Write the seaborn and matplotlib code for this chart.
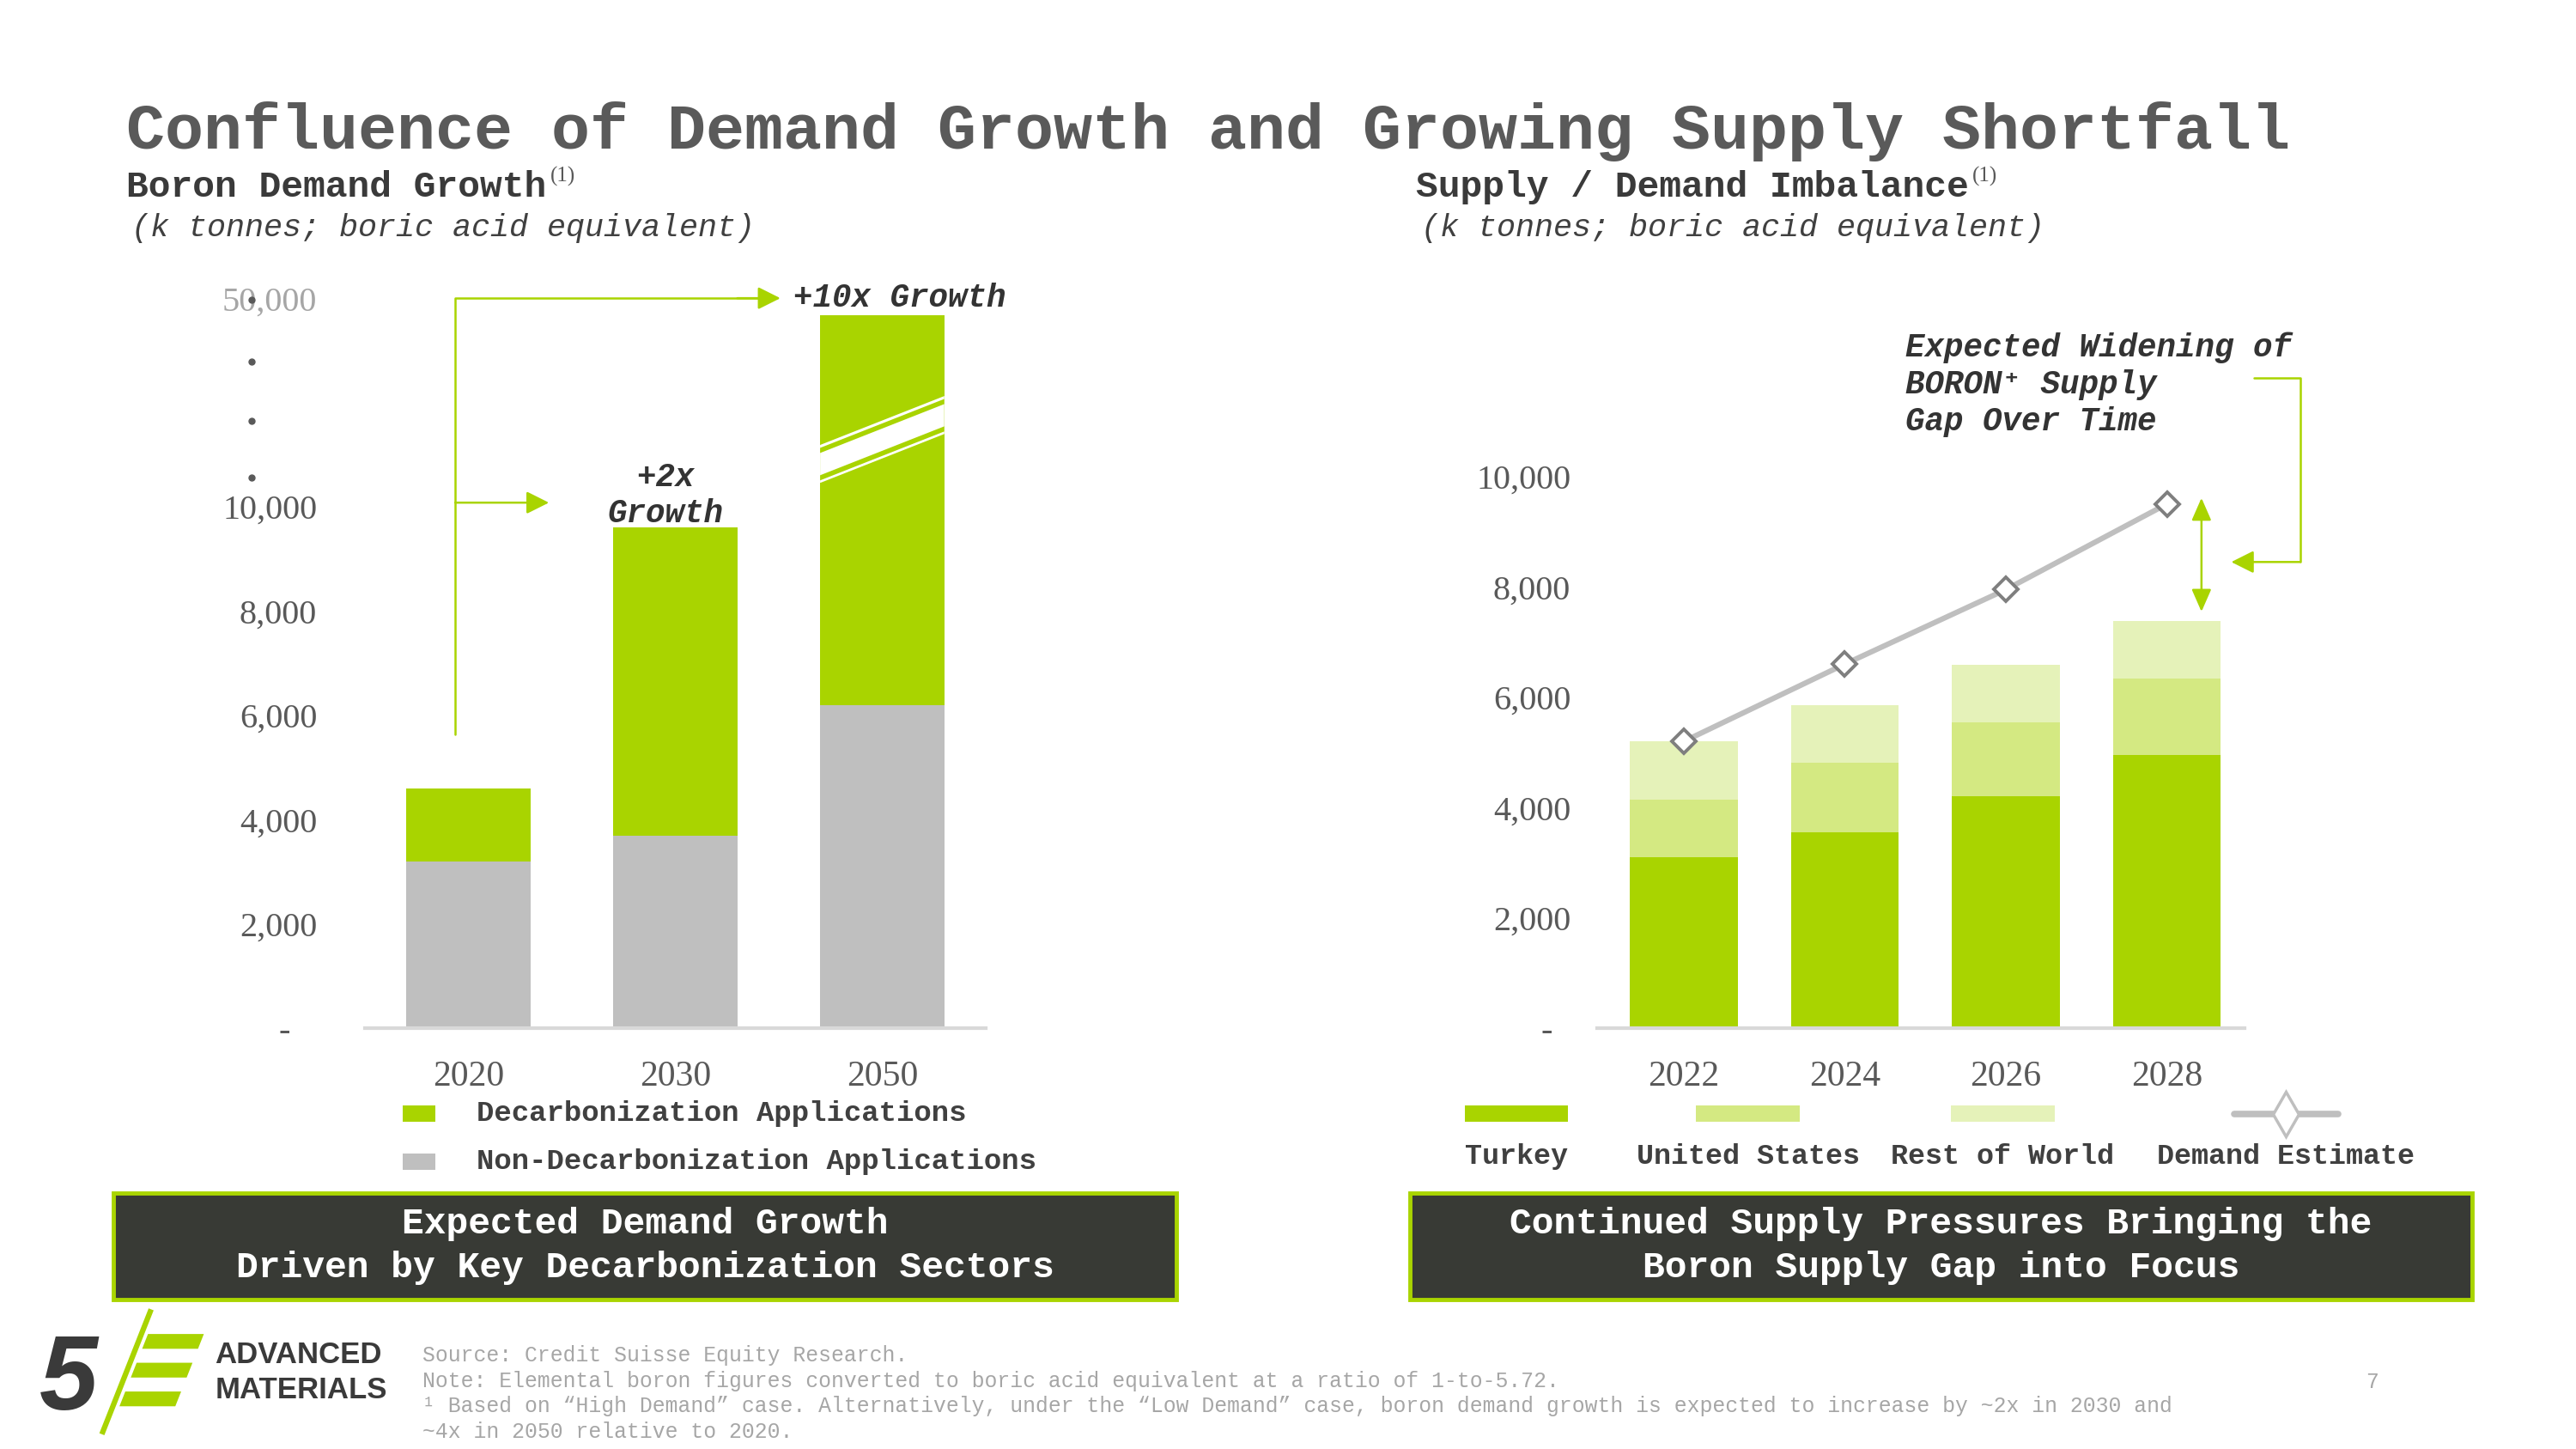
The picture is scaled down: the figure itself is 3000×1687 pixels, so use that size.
import numpy as np
import pandas as pd
import matplotlib
matplotlib.use('Agg')
import matplotlib.pyplot as plt
import matplotlib.transforms as mtransforms
from matplotlib.patches import Rectangle, Polygon
from matplotlib.lines import Line2D
import seaborn as sns

# ---- data ----
demand_years = ['2020', '2030', '2050']
non_decarb = [3200, 3700, 6200]
decarb = [1400, 5900, 40500]

supply_years = ['2022', '2024', '2026', '2028']
turkey = [3100, 3550, 4200, 4950]
united_states = [1050, 1270, 1340, 1390]
rest_of_world = [1050, 1030, 1040, 1040]
demand_estimate = [5200, 6600, 7950, 9500]

left_ticks = [0, 2000, 4000, 6000, 8000, 10000, 50000]
left_ticklabels = ['-   ', '2,000', '4,000', '6,000', '8,000', '10,000', '50,000']
right_ticks = [0, 2000, 4000, 6000, 8000, 10000]
right_ticklabels = ['-  ', '2,000', '4,000', '6,000', '8,000', '10,000']

# ---- style ----
GREEN = '#A9D400'
US_GREEN = '#D4E982'
ROW_GREEN = '#E5F2B9'
GRAY = '#BFBFBF'
DARK = '#3A3A3A'
TICK = '#595959'
NOTE = '#A6A6A6'
BOX = '#383A35'
MONO = ['Liberation Mono', 'DejaVu Sans Mono']
SERIF = ['Liberation Serif', 'DejaVu Serif']
SANS = ['Liberation Sans', 'DejaVu Sans']

sns.set_style('white')
plt.rcParams['font.family'] = MONO

fig = plt.figure(figsize=(30, 16.87), dpi=100)

# layout helpers (slide measured at 1568 x 882)
W, H = 1568.0, 882.0


def fx(x):
    return x / W


def fy(y):
    return 1 - y / H


ax1 = fig.add_axes([fx(222), fy(626), fx(600) - fx(222), fy(181.5) - fy(626)])
ax2 = fig.add_axes([fx(972), fy(626), fx(1366) - fx(972), fy(256.4) - fy(626)])

# ---- left: boron demand growth ----
df_d = pd.DataFrame({'year': demand_years, 'non': non_decarb, 'decarb': decarb})
df_d['total'] = df_d['non'] + df_d['decarb']

sns.barplot(data=df_d, x='year', y='total', color=GREEN, saturation=1, width=0.6,
            errorbar=None, linewidth=0, ax=ax1)
sns.barplot(data=df_d, x='year', y='non', color=GRAY, saturation=1, width=0.6,
            errorbar=None, linewidth=0, ax=ax1)


def fwd(y):
    y = np.asarray(y, dtype=float)
    return np.where(y <= 10000, y, 10000 + (y - 10000) / 10)


def inv(d):
    d = np.asarray(d, dtype=float)
    return np.where(d <= 10000, d, 10000 + (d - 10000) * 10)


ax1.set_yscale('function', functions=(fwd, inv))
ax1.set_ylim(0, 50000)
ax1.set_xlim(-0.5, 2.5)
ax1.set_yticks(left_ticks)
ax1.set_yticklabels(left_ticklabels)
ax1.set_xlabel('')
ax1.set_ylabel('')
ax1.tick_params(axis='y', length=0, pad=40, labelsize=29, labelcolor=TICK)
ax1.tick_params(axis='x', length=0, pad=27, labelsize=30, labelcolor=TICK)
for lbl in ax1.get_yticklabels() + ax1.get_xticklabels():
    lbl.set_fontfamily(SERIF)
ax1.get_yticklabels()[-1].set_color(NOTE)
sns.despine(ax=ax1, left=True)
ax1.spines['bottom'].set_color('#D9D9D9')
ax1.spines['bottom'].set_linewidth(3)

# axis break through the 2050 bar
tr1 = mtransforms.blended_transform_factory(ax1.transData, ax1.transAxes)
bx0, bx1 = 2 - 0.3, 2 + 0.3


def band(lo_l, lo_r, th, color):
    ax1.add_patch(Polygon([(bx0, lo_l), (bx1, lo_r), (bx1, lo_r + th), (bx0, lo_l + th)],
                          closed=True, transform=tr1, facecolor=color, lw=0, zorder=5))


band(0.747, 0.814, 0.052, 'white')
band(0.747 + 0.0035, 0.814 + 0.0035, 0.007, GREEN)
band(0.747 + 0.041, 0.814 + 0.041, 0.007, GREEN)

# dotted axis break
ax1.plot([-0.1825] * 4, [0.998, 0.913, 0.832, 0.754], transform=ax1.transAxes,
         ls='none', marker='o', ms=5, color=TICK, clip_on=False)

# growth arrows
ax1.plot([-0.063, -0.063, 1.4], [0.403, 1.0, 1.0], transform=tr1, color=GREEN,
         lw=1.8, clip_on=False)
ax1.annotate('', xy=(1.508, 1.0), xytext=(1.3, 1.0), xycoords=tr1, textcoords=tr1,
             arrowprops=dict(arrowstyle='-|>,head_length=1.6,head_width=0.8',
                             color=GREEN, lw=1.8, shrinkA=0, shrinkB=0),
             annotation_clip=False)
ax1.annotate('', xy=(0.39, 0.72), xytext=(-0.063, 0.72), xycoords=tr1, textcoords=tr1,
             arrowprops=dict(arrowstyle='-|>,head_length=1.6,head_width=0.8',
                             color=GREEN, lw=1.8, shrinkA=0, shrinkB=0),
             annotation_clip=False)
ax1.text(1.57, 1.0, '+10x Growth', transform=tr1, ha='left', va='center', fontsize=27,
         fontweight='bold', fontstyle='italic', color='#333333', clip_on=False)
ax1.text(0.952, 0.73, '+2x\nGrowth', transform=tr1, ha='center', va='center', fontsize=27,
         fontweight='bold', fontstyle='italic', color='#333333', clip_on=False)

# ---- right: supply / demand imbalance ----
df_s = pd.DataFrame({'year': supply_years, 'turkey': turkey, 'us': united_states,
                     'row': rest_of_world, 'demand': demand_estimate})
df_s['us_cum'] = df_s['turkey'] + df_s['us']
df_s['all'] = df_s['us_cum'] + df_s['row']

sns.barplot(data=df_s, x='year', y='all', color=ROW_GREEN, saturation=1, width=0.67,
            errorbar=None, linewidth=0, ax=ax2)
sns.barplot(data=df_s, x='year', y='us_cum', color=US_GREEN, saturation=1, width=0.67,
            errorbar=None, linewidth=0, ax=ax2)
sns.barplot(data=df_s, x='year', y='turkey', color=GREEN, saturation=1, width=0.67,
            errorbar=None, linewidth=0, ax=ax2)
sns.pointplot(data=df_s, x='year', y='demand', color=GRAY, markers='D', errorbar=None,
              markersize=14, markerfacecolor='white', markeredgecolor='#7F7F7F',
              markeredgewidth=2.8, linewidth=4.5, ax=ax2)

ax2.set_ylim(0, 11000)
ax2.set_xlim(-0.54, 3.48)
ax2.set_yticks(right_ticks)
ax2.set_yticklabels(right_ticklabels)
ax2.set_xlabel('')
ax2.set_ylabel('')
ax2.tick_params(axis='y', length=0, pad=22, labelsize=29, labelcolor=TICK)
ax2.tick_params(axis='x', length=0, pad=27, labelsize=30, labelcolor=TICK)
for lbl in ax2.get_yticklabels() + ax2.get_xticklabels():
    lbl.set_fontfamily(SERIF)
sns.despine(ax=ax2, left=True)
ax2.spines['bottom'].set_color('#D9D9D9')
ax2.spines['bottom'].set_linewidth(3)

# supply gap arrow and bracket
last = len(supply_years) - 1
ax2.annotate('', xy=(3.215, df_s['all'].iloc[last] + 170),
             xytext=(3.215, demand_estimate[last] + 110),
             arrowprops=dict(arrowstyle='<|-|>,head_length=1.6,head_width=0.7',
                             color=GREEN, lw=1.8, shrinkA=0, shrinkB=0),
             annotation_clip=False)
ax2.plot([3.54, 3.827, 3.827], [11790, 11790, 8450], color=GREEN, lw=1.8, clip_on=False)
ax2.annotate('', xy=(3.40, 8450), xytext=(3.827, 8450),
             arrowprops=dict(arrowstyle='-|>,head_length=1.6,head_width=0.8',
                             color=GREEN, lw=1.8, shrinkA=0, shrinkB=0),
             annotation_clip=False)
fig.text(fx(1160), fy(234), 'Expected Widening of\nBORON\u207a Supply\nGap Over Time',
         ha='left', va='center', fontsize=27, fontweight='bold', fontstyle='italic',
         color='#333333', linespacing=1.25)

# ---- titles ----
fig.text(fx(77), fy(80), 'Confluence of Demand Growth and Growing Supply Shortfall',
         fontsize=54, fontweight='bold', color='#5A5A5A', va='center', ha='left')
for x0, head in [(77, 'Boron Demand Growth'), (862, 'Supply / Demand Imbalance')]:
    t = fig.text(fx(x0), fy(114), head, fontsize=31, fontweight='bold', color=DARK,
                 va='center', ha='left')
    ax1.annotate('(1)', xy=(1, 1.1), xycoords=t, xytext=(3, 0), textcoords='offset points',
                 ha='left', va='top', fontsize=18, color=TICK, family=SERIF,
                 annotation_clip=False)
    fig.text(fx(x0 + 3), fy(139), '(k tonnes; boric acid equivalent)', fontsize=26.5,
             fontstyle='italic', color='#404040', va='center', ha='left')

# ---- legends ----
for yy, col, lab in [(678, GREEN, 'Decarbonization Applications'),
                     (707, GRAY, 'Non-Decarbonization Applications')]:
    fig.add_artist(Rectangle((fx(245), fy(yy + 5)), fx(20), 10 / H, transform=fig.transFigure,
                             facecolor=col, lw=0))
    fig.text(fx(290), fy(yy), lab, fontsize=24.5, fontweight='bold', color='#404040',
             va='center', ha='left')

leg_centers = [923, 1064, 1219]
for cx, col, lab in zip(leg_centers, [GREEN, US_GREEN, ROW_GREEN],
                        ['Turkey', 'United States', 'Rest of World']):
    fig.add_artist(Rectangle((fx(cx - 31.5), fy(683)), fx(63), 10 / H,
                             transform=fig.transFigure, facecolor=col, lw=0))
    fig.text(fx(cx), fy(704), lab, fontsize=24, fontweight='bold', color='#404040',
             va='center', ha='center')
fig.add_artist(Line2D([fx(1360), fx(1423)], [fy(678), fy(678)], transform=fig.transFigure,
                      color=GRAY, lw=5.5))
fig.add_artist(Line2D([fx(1391.5)], [fy(678)], transform=fig.transFigure, marker='d',
                      ms=26, mfc='white', mec=GRAY, mew=2.5, lw=0))
fig.text(fx(1391.5), fy(704), 'Demand Estimate', fontsize=24, fontweight='bold',
         color='#404040', va='center', ha='center')

# ---- takeaway boxes ----
for l, r, msg in [(69, 716, 'Expected Demand Growth\nDriven by Key Decarbonization Sectors'),
                  (858, 1505, 'Continued Supply Pressures Bringing the\nBoron Supply Gap into Focus')]:
    fig.add_artist(Rectangle((fx(l), fy(791)), fx(r) - fx(l), 65 / H, transform=fig.transFigure,
                             facecolor=BOX, edgecolor=GREEN, lw=3.5))
    fig.text(fx((l + r) / 2), fy(758.5), msg, fontsize=31, fontweight='bold', color='white',
             ha='center', va='center', linespacing=1.35)

# ---- logo ----
fig.text(fx(24), fy(858), '5', fontsize=88, fontweight='bold', fontstyle='italic',
         family=SANS, color=DARK, ha='left', va='baseline')
fig.add_artist(Line2D([fx(62), fx(92)], [fy(873), fy(797)], transform=fig.transFigure,
                      color=GREEN, lw=4.5, solid_capstyle='butt'))


def slash_x(y):
    return 62 + (873 - y) * 30 / 76.0


for top in [812, 829.5, 847]:
    bot = top + 9
    xl_t = slash_x(top) + 4
    xl_b = slash_x(bot) + 4
    fig.add_artist(Polygon([(fx(xl_b), fy(bot)), (fx(xl_b + 34), fy(bot)),
                            (fx(xl_t + 34), fy(top)), (fx(xl_t), fy(top))],
                           closed=True, transform=fig.transFigure, facecolor=GREEN, lw=0))
fig.text(fx(131), fy(825), 'ADVANCED', fontsize=25, fontweight='bold', family=SANS,
         color=DARK, ha='left', va='center')
fig.text(fx(131), fy(846), 'MATERIALS', fontsize=25, fontweight='bold', family=SANS,
         color=DARK, ha='left', va='center')

# ---- footnotes ----
notes = [
    'Source: Credit Suisse Equity Research.',
    'Note: Elemental boron figures converted to boric acid equivalent at a ratio of 1-to-5.72.',
    '\u00b9 Based on \u201cHigh Demand\u201d case. Alternatively, under the \u201cLow Demand\u201d case, '
    'boron demand growth is expected to increase by ~2x in 2030 and',
    '~4x in 2050 relative to 2020.',
]
for yy, line in zip([825, 840.5, 856, 871.5], notes):
    fig.text(fx(257), fy(yy), line, fontsize=17.8, color=NOTE, ha='left', va='center')
fig.text(fx(1444), fy(841), '7', fontsize=17.8, color=NOTE, ha='center', va='center')

fig.savefig('out.png', dpi=100)
